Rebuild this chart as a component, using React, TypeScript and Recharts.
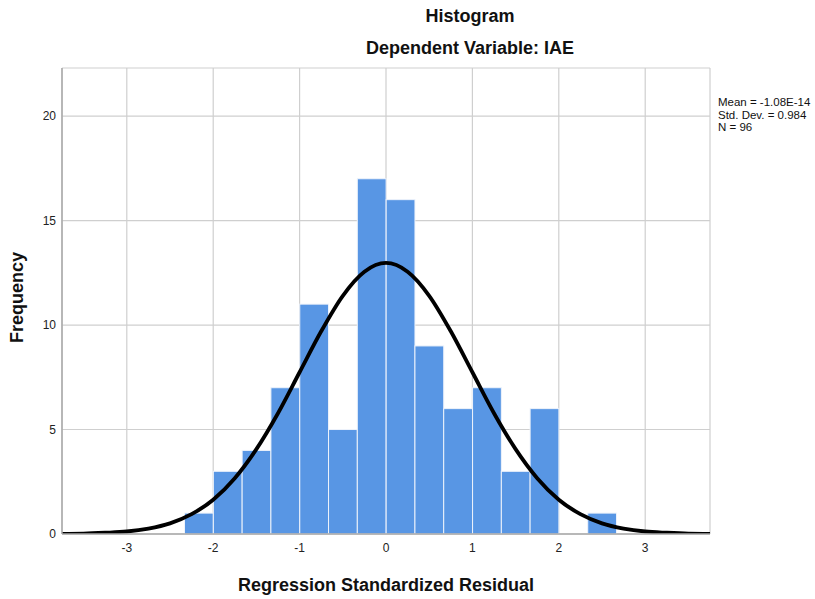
import { ComposedChart, Bar, Line, XAxis, YAxis, CartesianGrid } from 'recharts';

// histogram bins (bin centre on the residual axis, bin width 1/3)
const binMids = [-2.167, -1.833, -1.5, -1.167, -0.833, -0.5, -0.167, 0.167, 0.5, 0.833, 1.167, 1.5, 1.833, 2.167, 2.5];
const binCounts = [1, 3, 4, 7, 11, 5, 17, 16, 9, 6, 7, 3, 6, 0, 1];

// normal curve
const curveX = [-3.75, -3.5, -3.25, -3, -2.75, -2.5, -2.25, -2, -1.75, -1.5, -1.25, -1, -0.75, -0.5, -0.25, 0,
  0.25, 0.5, 0.75, 1, 1.25, 1.5, 1.75, 2, 2.25, 2.5, 2.75, 3, 3.25, 3.5, 3.75];
const curveY = [0.01, 0.02, 0.06, 0.12, 0.26, 0.51, 0.95, 1.64, 2.67, 4.06, 5.78, 7.74, 9.7, 11.4, 12.55, 12.97,
  12.55, 11.4, 9.7, 7.74, 5.78, 4.06, 2.67, 1.64, 0.95, 0.51, 0.26, 0.12, 0.06, 0.02, 0.01];

const xTicks = [-3, -2, -1, 0, 1, 2, 3];
const yTicks = [0, 5, 10, 15, 20];
const statLines = ['Mean = -1.08E-14', 'Std. Dev. = 0.984', 'N = 96'];

const bins = binMids.map((x, i) => ({ x, count: binCounts[i] }));
const curve = curveX.map((x, i) => ({ x, density: curveY[i] }));

const font = '"Liberation Sans", Arial, sans-serif';
const BIN_PX = 28.8; // one bin = 1/3 unit on the x scale

// recharts squeezes the band because the curve points sit between the bins,
// so draw each bar at full bin width around its centre
function HistBar(props: any) {
  const { x, y, width, height } = props;
  if (!height || height <= 0) return null;
  const cx = x + width / 2;
  return <rect x={cx - BIN_PX / 2} y={y} width={BIN_PX} height={height} fill="#5896e4" stroke="#eef3fb" strokeWidth={1} />;
}

const titleStyle: any = { position: 'absolute', textAlign: 'center', fontSize: 18, fontWeight: 'bold', color: '#111', whiteSpace: 'nowrap' };

export default function App() {
  return (
    <div style={{ position: 'absolute', left: 0, top: 0, width: 815, height: 599, background: '#fff', fontFamily: font }}>
      <div style={{ ...titleStyle, left: 320, width: 300, top: 6 }}>Histogram</div>
      <div style={{ ...titleStyle, left: 320, width: 300, top: 38 }}>Dependent Variable: IAE</div>
      <div style={{ position: 'absolute', left: 718, top: 96, fontSize: 11.5, lineHeight: '12.5px', color: '#111' }}>
        {statLines.map(s => <div key={s}>{s}</div>)}
      </div>

      <ComposedChart width={815} height={599} data={bins} margin={{ top: 68, right: 105, bottom: 35, left: 0 }}>
        <CartesianGrid stroke="#cfcfcf" strokeWidth={1.2} />
        <XAxis
          dataKey="x"
          type="number"
          domain={[-3.75, 3.75]}
          ticks={xTicks}
          allowDataOverflow
          height={30}
          tickSize={0}
          tickMargin={9}
          axisLine={{ stroke: '#a8a8a8', strokeWidth: 1.5 }}
          tick={{ fill: '#222', fontSize: 12, fontFamily: font }}
        />
        <YAxis
          type="number"
          domain={[0, 22.3]}
          ticks={yTicks}
          allowDataOverflow
          width={62}
          tickSize={0}
          tickMargin={6}
          axisLine={{ stroke: '#a8a8a8', strokeWidth: 1.5 }}
          tick={{ fill: '#222', fontSize: 12, fontFamily: font }}
        />
        <Bar dataKey="count" shape={HistBar} fill="#5896e4" isAnimationActive={false} />
        <Line
          data={curve}
          dataKey="density"
          type="monotone"
          stroke="#000"
          strokeWidth={3.8}
          dot={false}
          activeDot={false}
          isAnimationActive={false}
        />
      </ComposedChart>

      <div style={{ ...titleStyle, left: 186, width: 400, top: 575 }}>Regression Standardized Residual</div>
      <div style={{ ...titleStyle, left: -43, top: 287, width: 120, transform: 'rotate(-90deg)' }}>Frequency</div>
    </div>
  );
}
